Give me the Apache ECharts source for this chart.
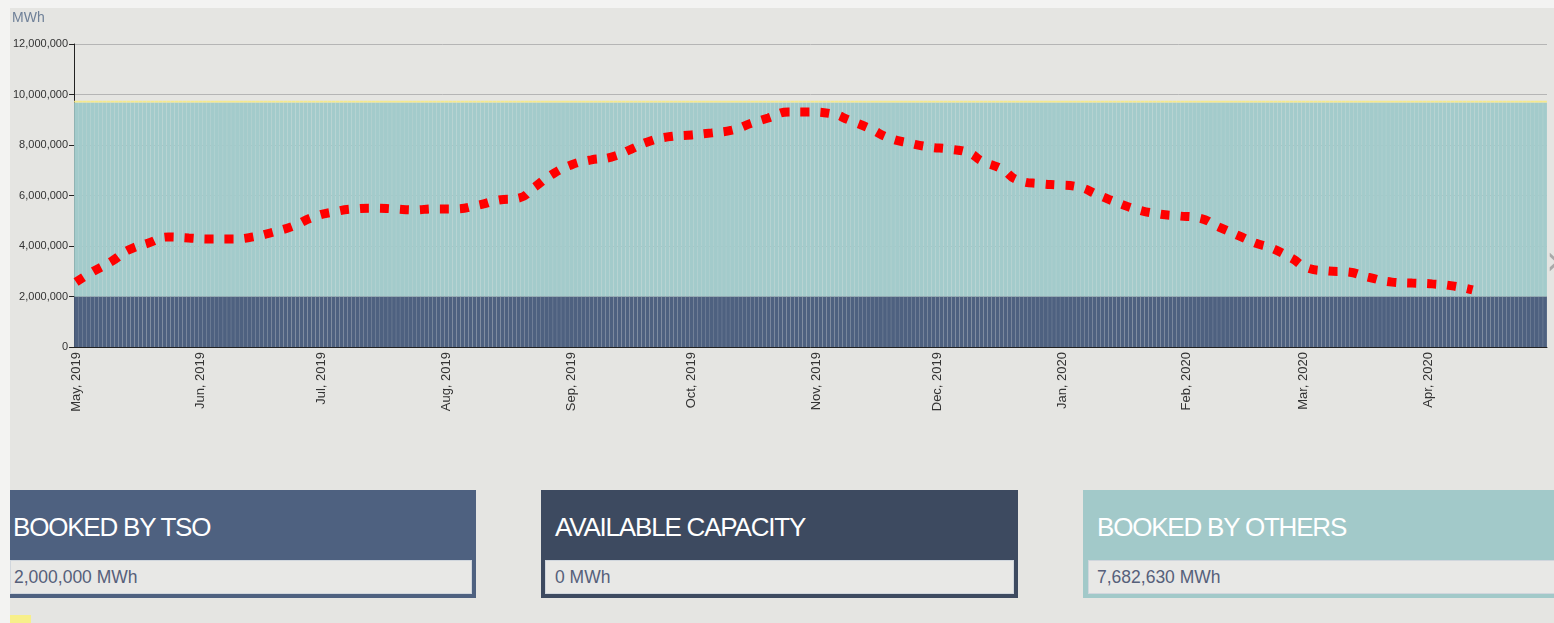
<!DOCTYPE html>
<html>
<head>
<meta charset="utf-8">
<title>Storage capacity</title>
<script src="https://cdn.jsdelivr.net/npm/echarts@6/dist/echarts.min.js"></script>
<style>
  html, body {
    margin: 0;
    padding: 0;
    background: #f3f3f2;
    font-family: 'Liberation Sans', Arial, sans-serif;
  }
  .page {
    position: absolute;
    left: 10px;
    top: 8px;
    width: 1544px;
    height: 615px;
    background: #e5e5e2;
    overflow: hidden;
  }
  #chart {
    position: absolute;
    left: 0;
    top: 0;
    width: 1544px;
    height: 470px;
  }
  .box {
    position: absolute;
    top: 482px;
    height: 108px;
    box-sizing: border-box;
  }
  .box .title {
    position: absolute;
    left: 3px;
    top: 21px;
    color: #fff;
    font-size: 26px;
    letter-spacing: -1.2px;
    line-height: 32px;
  }
  .box .value {
    position: absolute;
    left: 0;
    right: 4px;
    top: 70px;
    height: 34px;
    box-sizing: border-box;
    background: #e8e8e6;
    border: 1px solid #d0d6dd;
    color: #56607a;
    font-size: 17.5px;
    line-height: 33px;
    padding-left: 3px;
  }
  .legend-dot {
    position: absolute;
    left: 0;
    top: 607px;
    width: 21px;
    height: 8px;
    background: #f7ef8a;
  }
</style>
</head>
<body>
<div class="page">
  <div id="chart"></div>

  <div class="box" style="left:0; width:466px; background:#4e6180;">
    <div class="title">BOOKED BY TSO</div>
    <div class="value" id="tso-value"></div>
  </div>
  <div class="box" style="left:531px; width:477px; background:#3d4a60;">
    <div class="title" style="left:14px">AVAILABLE CAPACITY</div>
    <div class="value" id="available-value" style="left:4px; padding-left:9px"></div>
  </div>
  <div class="box" style="left:1073px; width:480px; background:#a2c9c9;">
    <div class="title" style="left:14px">BOOKED BY OTHERS</div>
    <div class="value" id="others-value" style="left:5px; right:0; padding-left:8px"></div>
  </div>
  <div class="legend-dot"></div>
</div>

<script>
// constant daily bookings, MWh
const bookedByTso = 2000000
const bookedByOthers = 7682630
const availableCapacity = 0
const topMargin = 70000

// stock level line (day index from 1 May 2019, MWh)
const stockDays = [0, 4, 9, 13, 18, 23, 28, 33, 39, 44, 49, 54, 59, 64, 69, 74, 79, 84, 89, 94,
  100, 105, 110, 114, 118, 123, 128, 133, 138, 142, 147, 153, 158, 163, 168, 172, 177, 182, 188, 192,
  197, 202, 207, 212, 217, 222, 225, 230, 234, 240, 244, 249, 254, 259, 264, 269, 274, 279, 284, 289,
  293, 297, 302, 306, 311, 316, 321, 327, 332, 337, 342, 347]
const stockValues = [2570000, 2970000, 3410000, 3840000, 4120000, 4360000, 4320000, 4280000, 4280000, 4360000,
  4550000, 4790000, 5150000, 5350000, 5470000, 5500000, 5470000, 5430000, 5470000, 5470000,
  5620000, 5820000, 5900000, 6340000, 6810000, 7210000, 7410000, 7520000, 7840000, 8120000,
  8320000, 8400000, 8480000, 8590000, 8870000, 9070000, 9310000, 9310000, 9230000, 8990000,
  8670000, 8280000, 8080000, 7920000, 7840000, 7680000, 7370000, 7050000, 6610000, 6460000,
  6420000, 6340000, 6020000, 5700000, 5430000, 5270000, 5190000, 5110000, 4750000, 4400000,
  4120000, 3920000, 3520000, 3130000, 3010000, 2970000, 2770000, 2570000, 2530000, 2500000,
  2420000, 2260000]

const yTicks = [0, 2000000, 4000000, 6000000, 8000000, 10000000, 12000000]
const monthNames = ['Jan', 'Feb', 'Mar', 'Apr', 'May', 'Jun', 'Jul', 'Aug', 'Sep', 'Oct', 'Nov', 'Dec']

// one category per gas day, 1 May 2019 .. 30 Apr 2020
const days = []
for (let t = Date.UTC(2019, 4, 1); t <= Date.UTC(2020, 3, 30); t += 86400000) {
  days.push(new Date(t).toISOString().slice(0, 10))
}

function fmt(n) {
  return n.toLocaleString('en-US')
}

document.getElementById('tso-value').textContent = fmt(bookedByTso) + ' MWh'
document.getElementById('available-value').textContent = fmt(availableCapacity) + ' MWh'
document.getElementById('others-value').textContent = fmt(bookedByOthers) + ' MWh'

const chart = echarts.init(document.getElementById('chart'))
chart.setOption({
  animation: false,
  textStyle: {
    fontFamily: 'Liberation Sans, Arial, sans-serif',
  },
  graphic: [
    {
      type: 'text',
      left: 2,
      top: 3,
      style: { text: 'MWh', fill: '#6f8098', font: '14px Liberation Sans, Arial, sans-serif' },
    },
    {
      type: 'text',
      left: 1536,
      top: 236,
      style: { text: '›', fill: '#a9a9a9', font: '40px DejaVu Sans, sans-serif' },
    },
  ],
  grid: {
    left: 62,
    top: 36,
    right: 7,
    height: 303,
  },
  xAxis: {
    type: 'category',
    data: days,
    axisLine: { lineStyle: { color: '#222', width: 1 } },
    axisTick: { show: false },
    axisLabel: {
      rotate: 90,
      margin: 5,
      color: '#333',
      fontSize: 13,
      interval: (i, v) => v.slice(8) === '01',
      formatter: (v) => monthNames[+v.slice(5, 7) - 1] + ', ' + v.slice(0, 4),
    },
  },
  yAxis: {
    type: 'value',
    min: yTicks[0],
    max: yTicks[yTicks.length - 1],
    interval: yTicks[1] - yTicks[0],
    axisLine: { show: true, lineStyle: { color: '#222' } },
    axisTick: { show: true, length: 5, lineStyle: { color: '#222' } },
    axisLabel: {
      margin: 6,
      color: '#333',
      fontSize: 11,
      formatter: (v) => fmt(v),
    },
    splitLine: { lineStyle: { color: '#b5b5b5' } },
  },
  series: [
    {
      name: 'Booked by TSO',
      type: 'bar',
      stack: 'cap',
      barCategoryGap: '4%',
      itemStyle: { color: '#4e6180' },
      data: days.map(() => bookedByTso),
    },
    {
      name: 'Available capacity',
      type: 'bar',
      stack: 'cap',
      itemStyle: { color: '#3d4a60' },
      data: days.map(() => availableCapacity),
    },
    {
      name: 'Booked by others',
      type: 'bar',
      stack: 'cap',
      itemStyle: { color: '#a3cbcb' },
      data: days.map(() => bookedByOthers),
    },
    {
      name: 'Technical capacity',
      type: 'bar',
      stack: 'cap',
      itemStyle: { color: '#f5e98c' },
      data: days.map(() => topMargin),
    },
    {
      name: 'Stock level',
      type: 'line',
      smooth: true,
      symbol: 'none',
      z: 5,
      lineStyle: { color: '#ff0000', width: 9, type: [9, 11], cap: 'butt' },
      data: stockDays.map((d, i) => [d, stockValues[i]]),
    },
  ],
})
</script>
</body>
</html>
